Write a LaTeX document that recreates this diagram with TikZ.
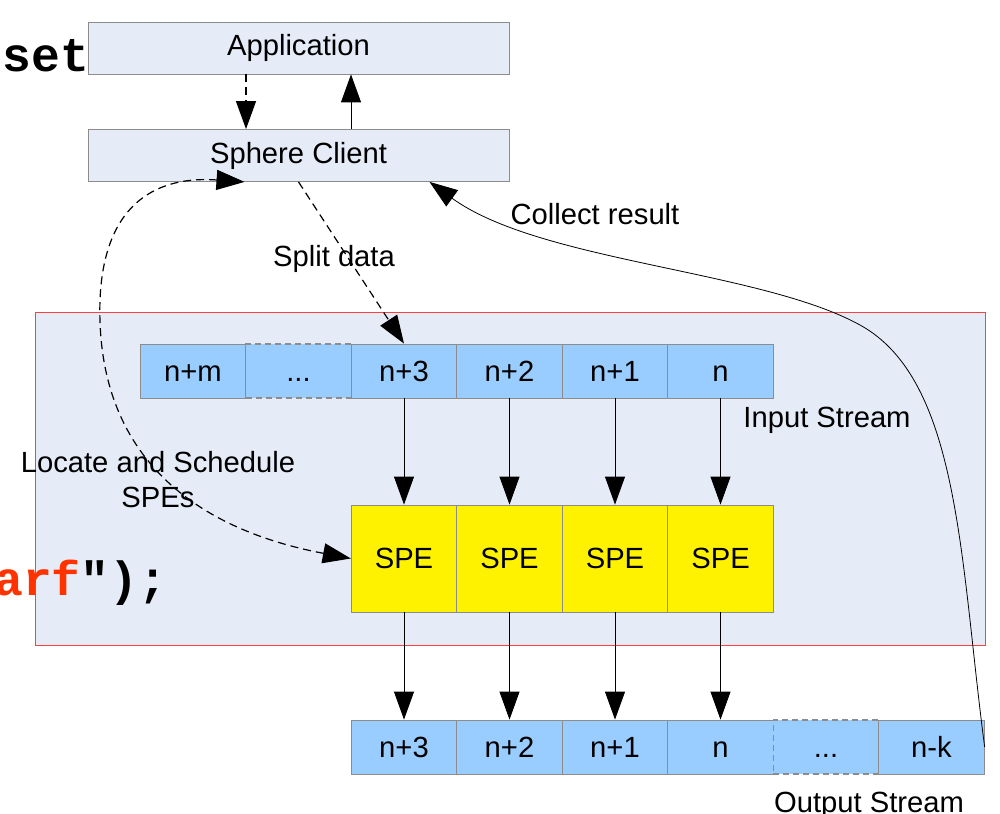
\documentclass[tikz,border=0pt]{standalone}
\usepackage{fontspec}
\setmainfont{Liberation Sans}
\setmonofont{Liberation Mono}
\usetikzlibrary{arrows.meta}

\definecolor{boxgray}{HTML}{E6ECF7}
\definecolor{cellblue}{HTML}{99CCFF}
\definecolor{codered}{HTML}{FF3300}
\definecolor{panelred}{HTML}{FF4040}

\tikzset{
    flow/.style={-{Triangle[length=14pt,width=10pt]}},
    flowboth/.style={{Triangle[length=14pt,width=10pt]}-{Triangle[length=14pt,width=10pt]}},
    dashline/.style={line width=0.6pt, dash pattern=on 4pt off 2.5pt},
    hostbox/.style={draw=black!45, fill=boxgray, minimum width=210.5pt, minimum height=26pt, inner sep=0},
    cell/.style={draw=black!45, fill=cellblue, minimum width=52.75pt, minimum height=27pt, inner sep=0,
        text height=10.5pt, text depth=0pt},
    gapcell/.style={cell, dash pattern=on 3pt off 2pt, line width=0.6pt},
    spebox/.style={draw=black!45, fill=yellow, minimum width=52.75pt, minimum height=53.5pt, inner sep=0},
    code/.style={font=\fontsize{24}{28}\selectfont\ttfamily\bfseries, inner sep=0, anchor=base west}
}

\begin{document}
\begin{tikzpicture}[x=0.5pt, y=-0.5pt, every node/.append style={font=\fontsize{14.6}{17.5}\selectfont}]
    \useasboundingbox (0,0) rectangle (1000,813);
    \clip (0,0) rectangle (1000,813);

    % Define the nodes
    \node[code] (codeset) at (2,72) {set};
    \node[hostbox] (app) at (298.5,48) {Application};
    \node[hostbox] (client) at (298.5,155.5) {Sphere Client};

    \draw[draw=panelred, fill=boxgray] (35,312) rectangle (985,645);
    \node[code] (codearf) at (-6,595) {\textcolor{codered}{arf}");};

    \node[cell] (inm) at (193,371) {n+m};
    \node[gapcell] (indots) at (298.5,371) {...};
    \node[cell] (in3) at (404,371) {n+3};
    \node[cell] (in2) at (509.5,371) {n+2};
    \node[cell] (in1) at (615,371) {n+1};
    \node[cell] (in0) at (720.5,371) {n};

    \node[spebox] (spe1) at (404,558.5) {SPE};
    \node[spebox] (spe2) at (509.5,558.5) {SPE};
    \node[spebox] (spe3) at (615,558.5) {SPE};
    \node[spebox] (spe4) at (720.5,558.5) {SPE};

    \node[cell] (out3) at (404,747) {n+3};
    \node[cell] (out2) at (509.5,747) {n+2};
    \node[cell] (out1) at (615,747) {n+1};
    \node[cell] (out0) at (720.5,747) {n};
    \node[gapcell] (outdots) at (826,747) {...};
    \node[cell] (outk) at (931.5,747) {n-k};

    \node (splitlbl) at (334,259) {Split data};
    \node (collectlbl) at (595,214) {Collect result};
    \node (inlbl) at (827,420) {Input Stream};
    \node (outlbl) at (869,805) {Output Stream};
    \node[align=center] (locatelbl) at (158,480) {Locate and Schedule\\SPEs};

    % Draw the edges
    \draw[flow, dashline] ([xshift=-26.25pt]app.south) -- ([xshift=-26.25pt]client.north);
    \draw[flow] ([xshift=26.25pt]client.north) -- ([xshift=26.25pt]app.south);
    \draw[flow, dashline] (client.south) -- (in3.north);

    \draw[flow] (in3) -- (spe1);
    \draw[flow] (in2) -- (spe2);
    \draw[flow] (in1) -- (spe3);
    \draw[flow] (in0) -- (spe4);

    \draw[flow] (spe1) -- (out3);
    \draw[flow] (spe2) -- (out2);
    \draw[flow] (spe3) -- (out1);
    \draw[flow] (spe4) -- (out0);

    \draw[flowboth, dashline] (spe1.west) .. controls (200,530) and (95,460) .. (100,300)
        .. controls (104,200) and (160,176) .. ([xshift=-27pt]client.south);
    \draw[flow] (outk.east) .. controls (960,560) and (960,380) .. (860,325)
        .. controls (760,270) and (540,262) .. ([xshift=65.5pt]client.south);
\end{tikzpicture}
\end{document}
